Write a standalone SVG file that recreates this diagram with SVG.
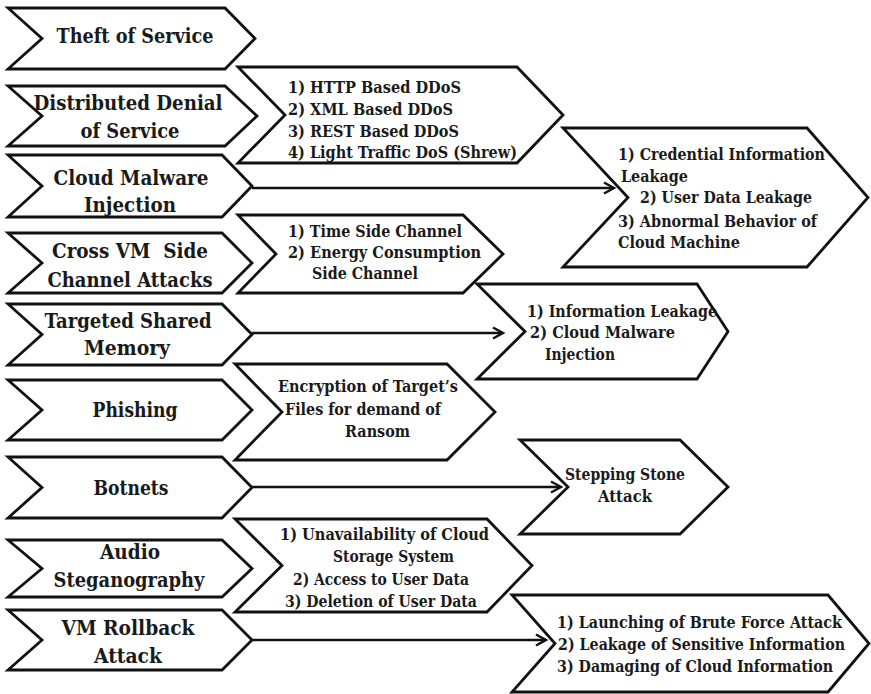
<svg xmlns="http://www.w3.org/2000/svg" width="871" height="694" viewBox="0 0 871 694">
  <defs>
    <style>
      .shape { fill: #ffffff; stroke: #111111; stroke-width: 2.8; stroke-linejoin: miter; }
      .link { fill: none; stroke: #111111; stroke-width: 2.6; }
      text { font-family: 'DejaVu Serif Condensed', 'DejaVu Serif', serif; font-weight: 700; fill: #1a1a1a; }
      .big { font-size: 21px; text-anchor: middle; }
      .small { font-size: 17px; }
      .mid { text-anchor: middle; }
    </style>
    <marker id="arrow" markerUnits="userSpaceOnUse" markerWidth="16" markerHeight="16" refX="12" refY="7" orient="auto">
      <path d="M2,1.5 L12,7 L2,12.5" fill="none" stroke="#111111" stroke-width="2.4"/>
    </marker>
  </defs>

  <rect width="871" height="694" fill="#ffffff"/>

  <!-- connectors -->
  <g id="connectors">
    <line class="link" x1="252" y1="188" x2="614" y2="188" marker-end="url(#arrow)"/>
    <line class="link" x1="252" y1="333" x2="503" y2="333" marker-end="url(#arrow)"/>
    <line class="link" x1="252" y1="487" x2="561" y2="487" marker-end="url(#arrow)"/>
    <line class="link" x1="252" y1="640" x2="546" y2="640" marker-end="url(#arrow)"/>
  </g>

  <!-- attack column -->
  <g id="theft-of-service">
    <path class="shape" d="M8,8 L225,8 L255,38.5 L225,69 L8,69 L42,38.5 Z"/>
    <text class="big" x="135" y="43" textLength="157" lengthAdjust="spacingAndGlyphs">Theft of Service</text>
  </g>
  <g id="ddos">
    <path class="shape" d="M8,86 L225,86 L257,116 L225,146 L8,146 L42,116 Z"/>
    <text class="big" x="128" y="110" textLength="189" lengthAdjust="spacingAndGlyphs">Distributed Denial</text>
    <text class="big" x="130" y="138" textLength="99" lengthAdjust="spacingAndGlyphs">of Service</text>
  </g>
  <g id="cloud-malware-injection">
    <path class="shape" d="M8,155 L222,155 L252,186 L222,217 L8,217 L42,186 Z"/>
    <text class="big" x="131" y="185" textLength="155" lengthAdjust="spacingAndGlyphs">Cloud Malware</text>
    <text class="big" x="130" y="212" textLength="92" lengthAdjust="spacingAndGlyphs">Injection</text>
  </g>
  <g id="cross-vm-side-channel">
    <path class="shape" d="M8,233 L222,233 L252,263 L222,293 L8,293 L42,263 Z"/>
    <text class="big" x="130" y="258" textLength="156" lengthAdjust="spacingAndGlyphs" xml:space="preserve">Cross VM  Side</text>
    <text class="big" x="130" y="287" textLength="165" lengthAdjust="spacingAndGlyphs">Channel Attacks</text>
  </g>
  <g id="targeted-shared-memory">
    <path class="shape" d="M8,304 L222,304 L252,334.5 L222,365 L8,365 L42,334.5 Z"/>
    <text class="big" x="128" y="328" textLength="167" lengthAdjust="spacingAndGlyphs">Targeted Shared</text>
    <text class="big" x="127" y="355" textLength="86" lengthAdjust="spacingAndGlyphs">Memory</text>
  </g>
  <g id="phishing">
    <path class="shape" d="M8,380 L222,380 L252,410 L222,440 L8,440 L42,410 Z"/>
    <text class="big" x="135" y="417" textLength="85" lengthAdjust="spacingAndGlyphs">Phishing</text>
  </g>
  <g id="botnets">
    <path class="shape" d="M8,457 L222,457 L252,487.5 L222,518 L8,518 L42,487.5 Z"/>
    <text class="big" x="131" y="495" textLength="75" lengthAdjust="spacingAndGlyphs">Botnets</text>
  </g>
  <g id="audio-steganography">
    <path class="shape" d="M8,540 L222,540 L252,568.5 L222,597 L8,597 L42,568.5 Z"/>
    <text class="big" x="130" y="559" textLength="60" lengthAdjust="spacingAndGlyphs">Audio</text>
    <text class="big" x="129" y="587" textLength="151" lengthAdjust="spacingAndGlyphs">Steganography</text>
  </g>
  <g id="vm-rollback">
    <path class="shape" d="M8,610 L222,610 L252,640 L222,670 L8,670 L42,640 Z"/>
    <text class="big" x="128" y="635" textLength="133" lengthAdjust="spacingAndGlyphs">VM Rollback</text>
    <text class="big" x="128" y="663" textLength="68" lengthAdjust="spacingAndGlyphs">Attack</text>
  </g>

  <!-- first-level effects -->
  <g id="ddos-variants">
    <path class="shape" d="M238,67 L517,67 L563,115 L517,163 L238,163 L285,115 Z"/>
    <text class="small" x="288" y="93" textLength="173" lengthAdjust="spacingAndGlyphs">1) HTTP Based DDoS</text>
    <text class="small" x="288" y="115" textLength="165" lengthAdjust="spacingAndGlyphs">2) XML Based DDoS</text>
    <text class="small" x="288" y="137" textLength="171" lengthAdjust="spacingAndGlyphs">3) REST Based DDoS</text>
    <text class="small" x="288" y="158" textLength="229" lengthAdjust="spacingAndGlyphs">4) Light Traffic DoS (Shrew)</text>
  </g>
  <g id="side-channel-types">
    <path class="shape" d="M238,215 L463,215 L503,254 L463,293 L238,293 L276,254 Z"/>
    <text class="small" x="288" y="237" textLength="174" lengthAdjust="spacingAndGlyphs">1) Time Side Channel</text>
    <text class="small" x="288" y="258" textLength="193" lengthAdjust="spacingAndGlyphs">2) Energy Consumption</text>
    <text class="small" x="312" y="279" textLength="106" lengthAdjust="spacingAndGlyphs">Side Channel</text>
  </g>
  <g id="ransom-encryption">
    <path class="shape" d="M235,364 L447,364 L495,412 L447,460 L235,460 L282,412 Z"/>
    <text class="small" x="278" y="392" textLength="180" lengthAdjust="spacingAndGlyphs">Encryption of Target’s</text>
    <text class="small" x="285" y="415" textLength="156" lengthAdjust="spacingAndGlyphs">Files for demand of</text>
    <text class="small" x="345" y="437" textLength="65" lengthAdjust="spacingAndGlyphs">Ransom</text>
  </g>
  <g id="storage-effects">
    <path class="shape" d="M235,519 L487,519 L532,565.5 L487,612 L235,612 L282,565.5 Z"/>
    <text class="small" x="280" y="540" textLength="209" lengthAdjust="spacingAndGlyphs">1) Unavailability of Cloud</text>
    <text class="small" x="333" y="562" textLength="121" lengthAdjust="spacingAndGlyphs">Storage System</text>
    <text class="small" x="293" y="585" textLength="176" lengthAdjust="spacingAndGlyphs">2) Access to User Data</text>
    <text class="small" x="285" y="607" textLength="192" lengthAdjust="spacingAndGlyphs">3) Deletion of User Data</text>
  </g>

  <!-- second-level effects -->
  <g id="credential-leakage">
    <path class="shape" d="M563,128 L807,128 L868,197.5 L807,267 L563,267 L628,197.5 Z"/>
    <text class="small" x="618" y="160" textLength="207" lengthAdjust="spacingAndGlyphs">1) Credential Information</text>
    <text class="small" x="621" y="182" textLength="67" lengthAdjust="spacingAndGlyphs">Leakage</text>
    <text class="small" x="640" y="203" textLength="172" lengthAdjust="spacingAndGlyphs">2) User Data Leakage</text>
    <text class="small" x="618" y="227" textLength="199" lengthAdjust="spacingAndGlyphs">3) Abnormal Behavior of</text>
    <text class="small" x="618" y="248" textLength="122" lengthAdjust="spacingAndGlyphs">Cloud Machine</text>
  </g>
  <g id="information-leakage">
    <path class="shape" d="M477,284 L697,284 L728,331.5 L697,379 L477,379 L525,331.5 Z"/>
    <text class="small" x="527" y="317" textLength="190" lengthAdjust="spacingAndGlyphs">1) Information Leakage</text>
    <text class="small" x="530" y="338" textLength="145" lengthAdjust="spacingAndGlyphs">2) Cloud Malware</text>
    <text class="small" x="545" y="360" textLength="70" lengthAdjust="spacingAndGlyphs">Injection</text>
  </g>
  <g id="stepping-stone">
    <path class="shape" d="M520,440 L680,440 L728,487 L680,534 L520,534 L568,487 Z"/>
    <text class="small mid" x="625" y="480" textLength="120" lengthAdjust="spacingAndGlyphs">Stepping Stone</text>
    <text class="small mid" x="625" y="502" textLength="54" lengthAdjust="spacingAndGlyphs">Attack</text>
  </g>
  <g id="rollback-effects">
    <path class="shape" d="M512,595 L828,595 L869,643.5 L828,692 L512,692 L555,643.5 Z"/>
    <text class="small" x="557" y="628" textLength="285" lengthAdjust="spacingAndGlyphs">1) Launching of Brute Force Attack</text>
    <text class="small" x="558" y="650" textLength="287" lengthAdjust="spacingAndGlyphs">2) Leakage of Sensitive Information</text>
    <text class="small" x="557" y="672" textLength="276" lengthAdjust="spacingAndGlyphs">3) Damaging of Cloud Information</text>
  </g>
</svg>
